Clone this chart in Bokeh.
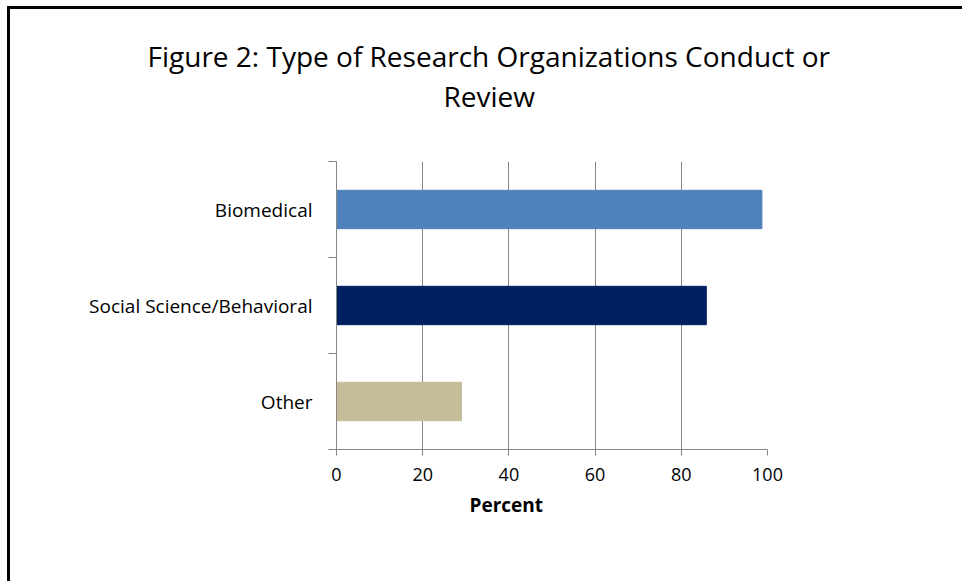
from bokeh.plotting import figure
from bokeh.models import Range1d, FixedTicker, Title, ColumnDataSource
from bokeh.embed import file_html
from bokeh.resources import INLINE

# ---- data ----
categories = ["Biomedical", "Social Science/Behavioral", "Other"]
percents = [98.7, 85.8, 29.0]
bar_colors = ["#4F81BD", "#002060", "#C4BD97"]
x_ticks = [0, 20, 40, 60, 80, 100]
title_lines = ["Figure 2: Type of Research Organizations Conduct or", "Review"]
x_title = "Percent"

n = len(categories)
ypos = [n - i - 0.5 for i in range(n)]
src = ColumnDataSource(dict(y=ypos, right=percents, color=bar_colors, cat=categories))

FONT = "Open Sans"
GRAY = "#868686"

p = figure(
    frame_width=431, frame_height=288,
    min_border_left=326, min_border_right=195,
    min_border_top=152, min_border_bottom=132,
    x_range=Range1d(0, 100), y_range=Range1d(0, n),
    output_backend="svg", toolbar_location=None,
    title_location=None,
)
p.styles = {"margin-left": "7px", "margin-top": "6px",
            "border-left": "3px solid black", "border-top": "3px solid black"}
p.background_fill_color = "white"
p.border_fill_color = "white"
p.outline_line_color = None

p.hbar(y="y", left=0, right="right", height=0.4, color="color", source=src)

# x axis
p.xaxis.ticker = FixedTicker(ticks=x_ticks)
p.xaxis.axis_line_color = GRAY
p.xaxis.major_tick_line_color = GRAY
p.xaxis.major_tick_out = 6
p.xaxis.major_tick_in = 0
p.xaxis.minor_tick_line_color = None
p.xaxis.major_label_text_font = FONT
p.xaxis.major_label_text_font_size = "18px"
p.xaxis.major_label_text_color = "black"
p.xaxis.major_label_standoff = 12

# y axis: labels at centres, tick marks at category boundaries
p.yaxis.ticker = FixedTicker(ticks=ypos, minor_ticks=list(range(n + 1)))
p.yaxis.major_label_overrides = {y: c for y, c in zip(ypos, categories)}
p.yaxis.axis_line_color = GRAY
p.yaxis.major_tick_line_color = None
p.yaxis.major_tick_out = 0
p.yaxis.major_tick_in = 0
p.yaxis.minor_tick_line_color = GRAY
p.yaxis.minor_tick_out = 8
p.yaxis.minor_tick_in = 0
p.yaxis.major_label_text_font = FONT
p.yaxis.major_label_text_font_size = "19px"
p.yaxis.major_label_text_color = "black"
p.yaxis.major_label_standoff = 16

p.xgrid.ticker = FixedTicker(ticks=x_ticks)
p.xgrid.grid_line_color = GRAY
p.xgrid.grid_line_width = 1
p.ygrid.grid_line_color = None

# titles: first added sits nearest the frame (a blank spacer first)
p.add_layout(Title(text=" ", text_font_size="1px", standoff=44), "above")
p.add_layout(Title(text=title_lines[1], align="left", offset=107,
                   text_font=FONT, text_font_size="28px", text_font_style="normal",
                   text_color="black", standoff=0), "above")
p.add_layout(Title(text=title_lines[0], align="left", offset=-189,
                   text_font=FONT, text_font_size="28px", text_font_style="normal",
                   text_color="black", standoff=0), "above")
p.add_layout(Title(text=x_title, align="left", offset=133,
                   text_font=FONT, text_font_size="19px", text_font_style="bold",
                   text_color="black", standoff=12), "below")

open("out.html", "w").write(file_html(p, INLINE))
